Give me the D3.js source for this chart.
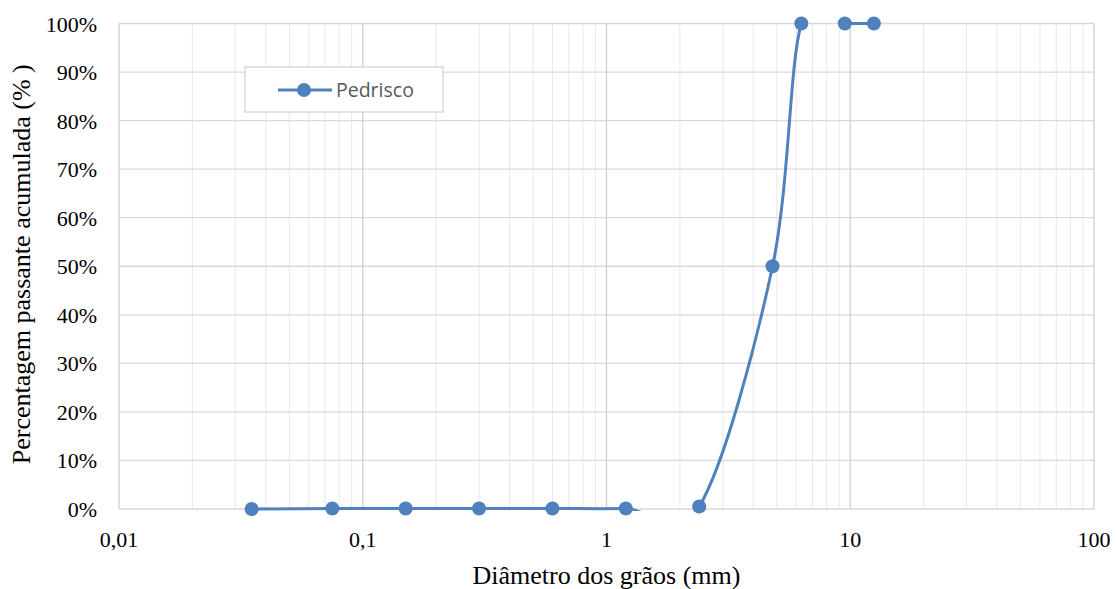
<!DOCTYPE html>
<html>
<head>
<meta charset="utf-8">
<script src="https://cdn.jsdelivr.net/npm/d3@7"></script>
<style>
  body { margin: 0; background: #fff; }
  svg { display: block; }
</style>
</head>
<body>
<svg id="chart"></svg>
<script>
// grain sizes (mm) and cumulative passing (%)
let diameters = [0.035, 0.075, 0.15, 0.3, 0.6, 1.2, 2.4, 4.8, 6.3, 9.5, 12.5];
let passing = [0, 0.1, 0.1, 0.1, 0.1, 0.1, 0.5, 50, 100, 100, 100];
let seriesName = "Pedrisco";
let xTicks = [0.01, 0.1, 1, 10, 100];
let xTickLabels = ["0,01", "0,1", "1", "10", "100"];
let yTicks = [0, 10, 20, 30, 40, 50, 60, 70, 80, 90, 100];

let width = 1116, height = 589;
let margin = {left: 119, right: 22, top: 23.5, bottom: 80};
let blue = "#4f81bd";
let serif = "'Liberation Serif', 'Times New Roman', serif";

let svg = d3.select("#chart").attr("width", width).attr("height", height);

let x = d3.scaleLog().domain([0.01, 100]).range([margin.left, width - margin.right]);
let y = d3.scaleLinear().domain([0, 100]).range([height - margin.bottom, margin.top]);

// minor vertical grid
let minors = [];
for (let d = 0.01; d < 100; d *= 10) {
    for (let k = 2; k <= 9; k++) minors.push(d * k);
}
svg.append("g").selectAll("line").data(minors)
    .enter().append("line")
    .attr("x1", d => x(d)).attr("x2", d => x(d))
    .attr("y1", y(0)).attr("y2", y(100))
    .attr("stroke", "#e8e8e8").attr("stroke-width", 1);

// horizontal grid
svg.append("g").selectAll("line").data(yTicks)
    .enter().append("line")
    .attr("x1", x(0.01)).attr("x2", x(100))
    .attr("y1", d => y(d)).attr("y2", d => y(d))
    .attr("stroke", "#d9d9d9").attr("stroke-width", 1.3);

// major vertical grid
svg.append("g").selectAll("line").data(xTicks)
    .enter().append("line")
    .attr("x1", d => x(d)).attr("x2", d => x(d))
    .attr("y1", y(0)).attr("y2", y(100))
    .attr("stroke", "#d0d0d0").attr("stroke-width", 1.3);

// tick labels
svg.append("g").selectAll("text").data(yTicks)
    .enter().append("text")
    .attr("x", margin.left - 22)
    .attr("y", d => y(d) + 8)
    .attr("text-anchor", "end")
    .style("font-family", serif)
    .style("font-size", "22px")
    .attr("fill", "#000")
    .text(d => d + "%");

svg.append("g").selectAll("text").data(xTicks)
    .enter().append("text")
    .attr("x", d => x(d))
    .attr("y", y(0) + 37.5)
    .attr("text-anchor", "middle")
    .style("font-family", serif)
    .style("font-size", "22px")
    .attr("fill", "#000")
    .text((d, i) => xTickLabels[i]);

// axis titles
svg.append("text")
    .attr("x", (x(0.01) + x(100)) / 2)
    .attr("y", 584)
    .attr("text-anchor", "middle")
    .style("font-family", serif)
    .style("font-size", "26px")
    .text("Diâmetro dos grãos (mm)");

svg.append("text")
    .attr("transform", "translate(29.5," + ((y(0) + y(100)) / 2 - 2) + ") rotate(-90)")
    .attr("text-anchor", "middle")
    .style("font-family", serif)
    .style("font-size", "26px")
    .text("Percentagem passante acumulada  (% )");

// smoothed series, clipped to plot area
svg.append("clipPath").attr("id", "plotClip")
    .append("rect")
    .attr("x", x(0.01)).attr("y", y(100) - 2)
    .attr("width", x(100) - x(0.01)).attr("height", y(0) - y(100) + 4);

let points = diameters.map((d, i) => [x(d), y(passing[i])]);
let line = d3.line().curve(d3.curveCardinal.tension(0));

svg.append("path")
    .attr("clip-path", "url(#plotClip)")
    .attr("d", line(points))
    .attr("fill", "none")
    .attr("stroke", blue)
    .attr("stroke-width", 3);

svg.append("g").selectAll("circle").data(points)
    .enter().append("circle")
    .attr("cx", d => d[0]).attr("cy", d => d[1])
    .attr("r", 7)
    .attr("fill", blue);

// legend
let legend = svg.append("g").attr("transform", "translate(245,67)");
legend.append("rect")
    .attr("width", 198).attr("height", 45)
    .attr("fill", "#fff")
    .attr("stroke", "#c9d6ea").attr("stroke-width", 1.3);
legend.append("line")
    .attr("x1", 33).attr("x2", 87).attr("y1", 23).attr("y2", 23)
    .attr("stroke", blue).attr("stroke-width", 3);
legend.append("circle")
    .attr("cx", 59).attr("cy", 23).attr("r", 7).attr("fill", blue);
legend.append("text")
    .attr("x", 91).attr("y", 29.7)
    .style("font-family", "'Open Sans', 'Noto Sans', sans-serif")
    .style("font-size", "19.5px")
    .attr("fill", "#595959")
    .text(seriesName);
</script>
</body>
</html>
